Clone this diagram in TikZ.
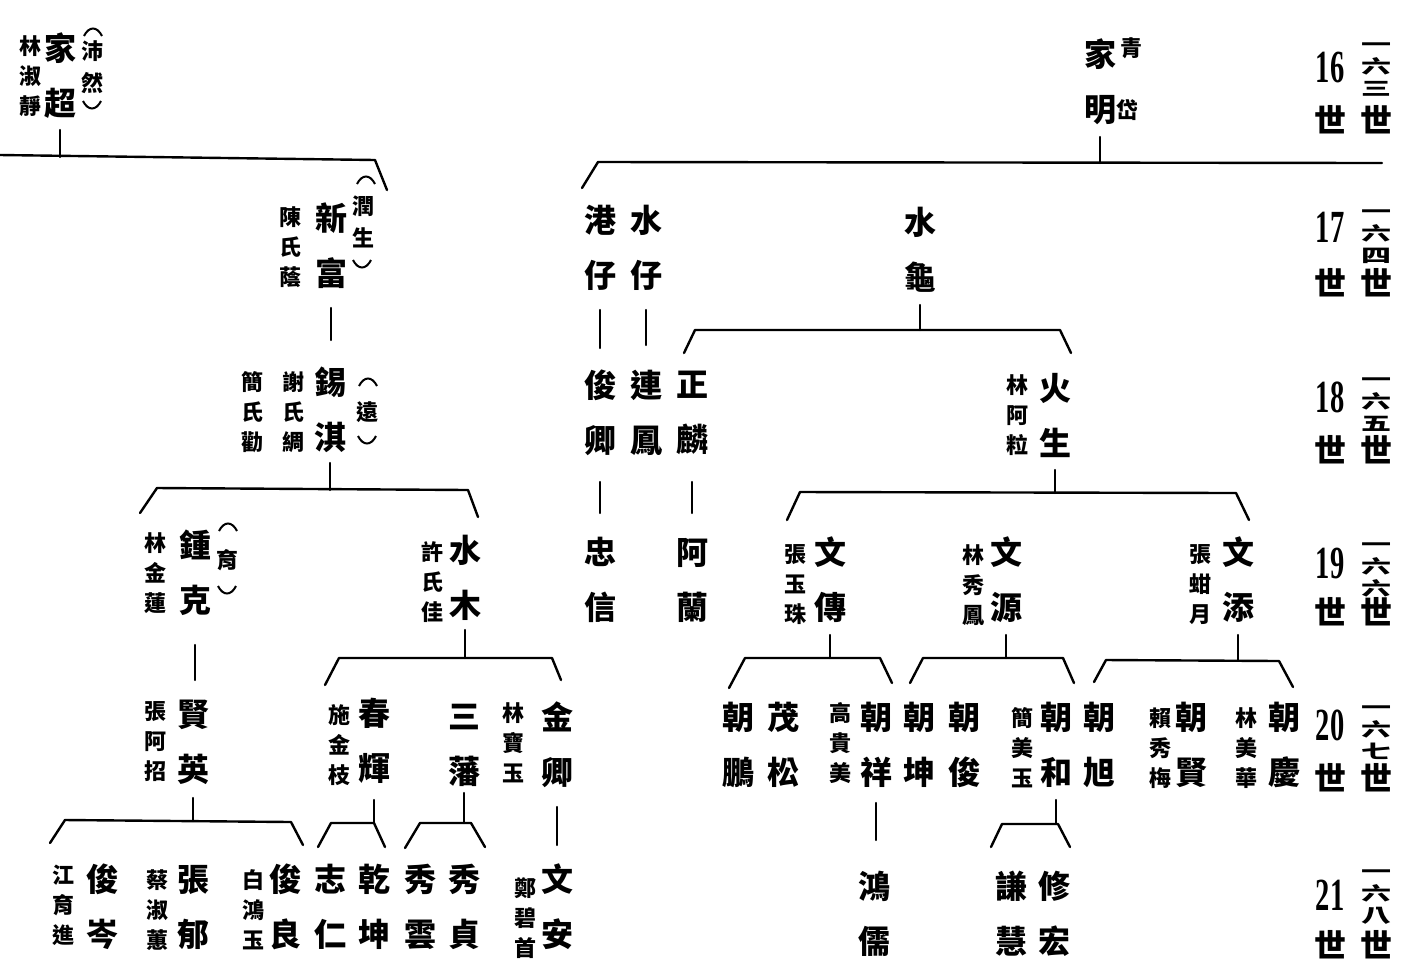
\documentclass[tikz,border=0pt]{standalone}
\usepackage{fontspec}
\newfontfamily\cjk{Noto Sans CJK TC}
\newfontfamily\numfont{Liberation Serif}
\usetikzlibrary{positioning}
\newcommand{\sq}[1]{\scalebox{1}[0.62]{#1}}

\begin{document}
\begin{tikzpicture}[
    x=0.5pt, y=-0.5pt,
    person/.style={font=\cjk\bfseries\fontsize{16}{27.5}\selectfont, align=center, inner sep=0pt},
    wife/.style={font=\cjk\bfseries\fontsize{11}{15}\selectfont, align=center, inner sep=0pt},
    nick/.style={font=\cjk\bfseries\fontsize{11}{16}\selectfont, align=center, inner sep=0pt},
    gennum/.style={font=\numfont\bfseries\fontsize{23}{23}\selectfont, inner sep=0pt},
    genchar/.style={font=\cjk\bfseries\fontsize{15}{11}\selectfont, align=center, inner sep=0pt},
    branch/.style={line width=1.2pt, line cap=round, line join=round},
    lparen/.pic={\draw[line width=1pt] (-9,6) .. controls (-4,-4) and (4,-4) .. (9,6);},
    rparen/.pic={\draw[line width=1pt] (-9,-6) .. controls (-4,4) and (4,4) .. (9,-6);}
  ]
  \useasboundingbox[fill=white] (0,0) rectangle (1407,976);

  % 16th generation
  \node[person] (jiachao) at (60,76) {家\\超};
  \node[wife] (shujing) at (30,76) {林\\淑\\靜};
  \node[nick] (peiran) at (92,67) {沛\\然};
  \pic at (93,30) {lparen};
  \pic at (92,107) {rparen};
  \node[person] (jiaming) at (1100,82) {家\\明};
  \node[wife] (qing) at (1131,48) {青};
  \node[wife] (dai) at (1127,110) {岱};

  % 17th generation
  \node[person] (xinfu) at (331,246) {新\\富};
  \node[wife] (chenshi) at (290,247) {陳\\氏\\蔭};
  \node[nick] (runsheng) at (363,222) {潤\\生};
  \pic at (366,178) {lparen};
  \pic at (362,266) {rparen};
  \node[person] (gangzai) at (600,248) {港\\仔};
  \node[person] (shuizai) at (646,248) {水\\仔};
  \node[person] (shuigui) at (920,250) {水\\龜};

  % 18th generation
  \node[person] (xiqi) at (330,410) {錫\\淇};
  \node[wife] (xieshi) at (293,412) {謝\\氏\\綢};
  \node[wife] (jianshi) at (252,412) {簡\\氏\\勸};
  \node[nick] (yuan) at (367,412) {遠};
  \pic at (368,380) {lparen};
  \pic at (367,442) {rparen};
  \node[person] (junqing) at (600,413) {俊\\卿};
  \node[person] (lianfeng) at (646,413) {連\\鳳};
  \node[person] (zhenglin) at (692,413) {正\\麟};
  \node[person] (huosheng) at (1055,415) {火\\生};
  \node[wife] (ali) at (1017,415) {林\\阿\\粒};

  % 19th generation
  \node[person] (zhongke) at (195,573) {鍾\\克};
  \node[wife] (jinlian) at (155,573) {林\\金\\蓮};
  \node[nick] (yu) at (227,560) {育};
  \pic at (228,525) {lparen};
  \pic at (227,592) {rparen};
  \node[person] (shuimu) at (465,578) {水\\木};
  \node[wife] (xushi) at (432,582) {許\\氏\\佳};
  \node[person] (zhongxin) at (600,580) {忠\\信};
  \node[person] (alan) at (692,580) {阿\\蘭};
  \node[person] (wenchuan) at (830,580) {文\\傳};
  \node[wife] (yuzhu) at (795,585) {張\\玉\\珠};
  \node[person] (wenyuan) at (1006,580) {文\\源};
  \node[wife] (xiufeng) at (973,585) {林\\秀\\鳳};
  \node[person] (wentian) at (1238,580) {文\\添};
  \node[wife] (hanyue) at (1200,585) {張\\蚶\\月};

  % 20th generation
  \node[person] (xianying) at (193,742) {賢\\英};
  \node[wife] (azhao) at (155,742) {張\\阿\\招};
  \node[person] (chunhui) at (374,741) {春\\輝};
  \node[wife] (jinzhi) at (339,745) {施\\金\\枝};
  \node[person] (sanfan) at (464,745) {三\\藩};
  \node[person] (jinqing) at (557,745) {金\\卿};
  \node[wife] (baoyu) at (513,743) {林\\寶\\玉};
  \node[person] (chaopeng) at (738,745) {朝\\鵬};
  \node[person] (maosong) at (783,745) {茂\\松};
  \node[person] (chaoxiang) at (876,745) {朝\\祥};
  \node[wife] (guimei) at (840,743) {高\\貴\\美};
  \node[person] (chaokun) at (919,745) {朝\\坤};
  \node[person] (chaojun) at (964,745) {朝\\俊};
  \node[person] (chaohe) at (1056,745) {朝\\和};
  \node[wife] (meiyu) at (1022,748) {簡\\美\\玉};
  \node[person] (chaoxu) at (1099,745) {朝\\旭};
  \node[person] (chaoxian) at (1191,745) {朝\\賢};
  \node[wife] (xiumei) at (1160,748) {賴\\秀\\梅};
  \node[person] (chaoqing) at (1284,745) {朝\\慶};
  \node[wife] (meihua) at (1246,748) {林\\美\\華};

  % 21st generation
  \node[person] (juncen) at (102,907) {俊\\岑};
  \node[wife] (yujin) at (63,905) {江\\育\\進};
  \node[person] (zhangyu) at (193,907) {張\\郁};
  \node[wife] (shuhui) at (157,910) {蔡\\淑\\蕙};
  \node[person] (junliang) at (285,907) {俊\\良};
  \node[wife] (hongyu) at (253,910) {白\\鴻\\玉};
  \node[person] (zhiren) at (330,907) {志\\仁};
  \node[person] (qiankun) at (374,907) {乾\\坤};
  \node[person] (xiuyun) at (420,907) {秀\\雲};
  \node[person] (xiuzhen) at (464,907) {秀\\貞};
  \node[person] (wenan) at (557,907) {文\\安};
  \node[wife] (bishou) at (525,918) {鄭\\碧\\首};
  \node[person] (hongru) at (874,914) {鴻\\儒};
  \node[person] (qianhui) at (1011,914) {謙\\慧};
  \node[person] (xiuhong) at (1054,914) {修\\宏};

  % generation labels
  \foreach \g/\n/\yn/\ys/\yc in {16/三/67/120/70, 17/四/227/283/237, 18/五/397/450/405,
      19/六/563/612/570, 20/七/725/778/733, 21/八/895/945/897} {
    \node[gennum] (num\g) at (1330,\yn) {\scalebox{0.62}[1]{\g}};
    \node[person] (shi\g) at (1330,\ys) {世};
    \node[genchar] (cn\g) at (1376,\yc) {\sq{一}\\\sq{六}\\\sq{\n}};
    \node[person] (cnshi\g) at (1376,\ys) {世};
  }

  % connectors
  \draw[branch] (jiachao |- 0,130) -- (jiachao |- 0,157);
  \draw[branch] (0,155) -- (375,160) -- (387,190);
  \draw[branch] (jiaming |- 0,137) -- (jiaming |- 0,163);
  \draw[branch] (582,188) -- (598,162) -- (1382,163);

  \draw[branch] (xinfu |- 0,308) -- (xinfu |- 0,340);
  \draw[branch] (gangzai |- 0,310) -- (gangzai |- 0,348);
  \draw[branch] (shuizai |- 0,310) -- (shuizai |- 0,345);
  \draw[branch] (shuigui |- 0,305) -- (shuigui |- 0,330);
  \draw[branch] (684,353) -- (695,330) -- (1060,330) -- (1071,353);

  \draw[branch] (xiqi |- 0,463) -- (xiqi |- 0,490);
  \draw[branch] (140,513) -- (157,488) -- (468,490) -- (478,517);
  \draw[branch] (junqing |- 0,482) -- (junqing |- 0,513);
  \draw[branch] (zhenglin |- 0,482) -- (zhenglin |- 0,513);
  \draw[branch] (huosheng |- 0,470) -- (huosheng |- 0,493);
  \draw[branch] (787,520) -- (800,492) -- (1236,493) -- (1249,520);

  \draw[branch] (zhongke |- 0,645) -- (zhongke |- 0,680);
  \draw[branch] (shuimu |- 0,630) -- (shuimu |- 0,658);
  \draw[branch] (325,685) -- (339,658) -- (552,658) -- (561,680);
  \draw[branch] (wenchuan |- 0,635) -- (wenchuan |- 0,658);
  \draw[branch] (729,688) -- (745,658) -- (880,658) -- (892,683);
  \draw[branch] (wenyuan |- 0,635) -- (wenyuan |- 0,658);
  \draw[branch] (910,683) -- (923,658) -- (1063,658) -- (1074,683);
  \draw[branch] (wentian |- 0,635) -- (wentian |- 0,660);
  \draw[branch] (1094,682) -- (1106,660) -- (1279,661) -- (1293,687);

  \draw[branch] (xianying |- 0,798) -- (xianying |- 0,821);
  \draw[branch] (50,843) -- (65,820) -- (291,822) -- (303,845);
  \draw[branch] (chunhui |- 0,800) -- (chunhui |- 0,823);
  \draw[branch] (318,847) -- (331,823) -- (374,823) -- (385,847);
  \draw[branch] (sanfan |- 0,793) -- (sanfan |- 0,823);
  \draw[branch] (405,848) -- (420,823) -- (471,823) -- (485,847);
  \draw[branch] (jinqing |- 0,807) -- (jinqing |- 0,845);
  \draw[branch] (chaoxiang |- 0,803) -- (chaoxiang |- 0,840);
  \draw[branch] (chaohe |- 0,800) -- (chaohe |- 0,824);
  \draw[branch] (991,847) -- (1002,824) -- (1058,824) -- (1070,847);
\end{tikzpicture}
\end{document}
